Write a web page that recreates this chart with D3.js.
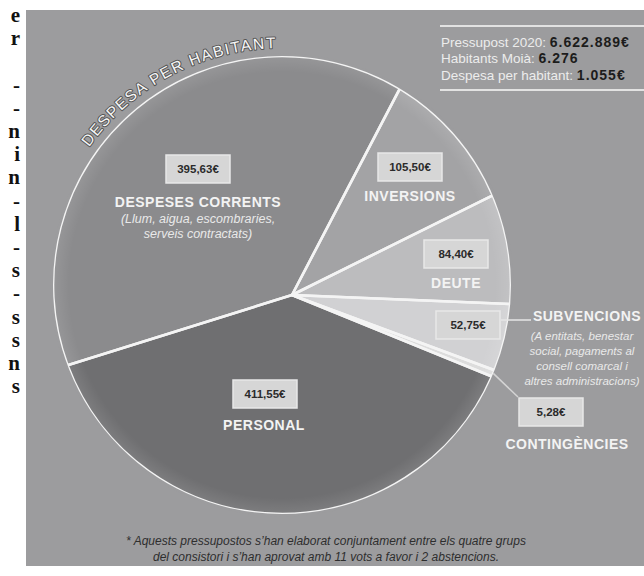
<!DOCTYPE html>
<html lang="ca">
<head>
<meta charset="UTF-8">
<title>Despesa per habitant</title>
<script src="https://cdn.jsdelivr.net/npm/d3@7"></script>
<style>
  body { margin: 0; background: #fff; overflow: hidden; }
  svg { display: block; }
  text { font-family: "Liberation Sans", Arial, sans-serif; }
</style>
</head>
<body>
<svg id="chart" width="644" height="576"></svg>
<script>
// slices, clockwise from the top-left
const categories = ["DESPESES CORRENTS", "INVERSIONS", "DEUTE", "SUBVENCIONS", "CONTINGÈNCIES", "PERSONAL"];
const values = [395.63, 105.50, 84.40, 52.75, 5.28, 411.55];
const valueLabels = ["395,63€", "105,50€", "84,40€", "52,75€", "5,28€", "411,55€"];
const notes = [
  ["(Llum, aigua, escombraries,", "serveis contractats)"],
  [], [],
  ["(A entitats, benestar", "social, pagaments al", "consell comarcal i", "altres administracions)"],
  [], []
];
const fills = ["#8b8b8d", "#a3a3a5", "#bcbcbe", "#d1d1d3", "#dcdcdc", "#6f6f71"];

const infoLabels = ["Pressupost 2020: ", "Habitants Moià: ", "Despesa per habitant: "];
const infoValues = ["6.622.889€", "6.276", "1.055€"];
const footnote = [
  "* Aquests pressupostos s’han elaborat conjuntament entre els quatre grups",
  "del consistori i s’han aprovat amb 11 vots a favor i 2 abstencions."
];
// line ends of the neighbouring newspaper column
const sideColumn = ["e", "r", "", "-", "-", "n", "i", "n", "-", "l", "-", "s", "-", "s", "s", "n", "s"];

// annotation anchors: value box, name, notes (+ note size)
const layout = [
  { box: [198, 169], name: [198, 202], notes: [198, 218], noteSize: 12.5 },
  { box: [410, 167], name: [410, 196] },
  { box: [456, 254], name: [456, 283] },
  { box: [468, 325], name: [587, 316], notes: [582, 336], noteSize: 11.5 },
  { box: [551, 412], name: [567, 444] },
  { box: [265, 394], name: [264, 425] }
];

const svg = d3.select("#chart");
const rad = Math.PI / 180;

// newspaper column strip
svg.append("g").selectAll("text").data(sideColumn).join("text")
  .attr("x", 20).attr("y", (d, i) => 22 + i * 23.2)
  .attr("text-anchor", "end")
  .style("font-family", "'Liberation Serif', 'DejaVu Serif', serif")
  .style("font-weight", "bold").style("font-size", "21px").attr("fill", "#111")
  .text(d => d);

// panel
svg.append("rect").attr("x", 26).attr("y", 10).attr("width", 618).attr("height", 556).attr("fill", "#9c9c9e");

// the pie: slices meet at an apex a little off the circle centre
const apex = [292, 295], centre = [282, 285], R = 229;
const data = categories.map((c, i) => ({ name: c, value: values[i], i }));
const a0 = -107.4 * rad;
const pie = d3.pie().sort(null).value(d => d.value).startAngle(a0).endAngle(a0 + 2 * Math.PI);
const arcs = pie(data);

function rim(a) {
  const ux = Math.sin(a), uy = -Math.cos(a);
  const dx = apex[0] - centre[0], dy = apex[1] - centre[1];
  const b = dx * ux + dy * uy;
  const t = -b + Math.sqrt(b * b - (dx * dx + dy * dy) + R * R);
  const x = apex[0] + t * ux, y = apex[1] + t * uy;
  return [x, y, Math.atan2(y - centre[1], x - centre[0])];
}

function slicePath(d) {
  const p0 = rim(d.startAngle), p1 = rim(d.endAngle);
  const p = d3.path();
  p.moveTo(apex[0], apex[1]);
  p.lineTo(p0[0], p0[1]);
  p.arc(centre[0], centre[1], R, p0[2], p1[2], false);
  p.closePath();
  return p.toString();
}

// soft light rim, as in the print
const defs = svg.append("defs");
const grad = defs.append("radialGradient").attr("id", "rimGlow")
  .attr("gradientUnits", "userSpaceOnUse")
  .attr("cx", centre[0]).attr("cy", centre[1]).attr("r", R);
grad.append("stop").attr("offset", "0.93").attr("stop-color", "#fff").attr("stop-opacity", 0);
grad.append("stop").attr("offset", "1").attr("stop-color", "#fff").attr("stop-opacity", 0.1);

const g = svg.append("g");
g.selectAll("path.slice").data(arcs).join("path")
  .attr("class", "slice")
  .attr("d", slicePath)
  .attr("fill", d => fills[d.data.i]);
g.append("circle").attr("cx", centre[0]).attr("cy", centre[1]).attr("r", R)
  .attr("fill", "url(#rimGlow)");
g.selectAll("path.edge").data(arcs).join("path")
  .attr("class", "edge")
  .attr("d", slicePath)
  .attr("fill", "none")
  .attr("stroke", "#f4f4f4").attr("stroke-width", 2.6).attr("stroke-linejoin", "round");
// outer rim has no white outline
g.append("circle").attr("cx", centre[0]).attr("cy", centre[1]).attr("r", R + 1.3)
  .attr("fill", "none").attr("stroke", "#9c9c9e").attr("stroke-width", 2.6);

// curved title along the rim
const tr = 237, t0 = -54.5 * rad, t1 = 25 * rad;
const tp = d3.path();
tp.moveTo(centre[0] + tr * Math.sin(t0), centre[1] - tr * Math.cos(t0));
tp.arc(centre[0], centre[1], tr, t0 - Math.PI / 2, t1 - Math.PI / 2, false);
defs.append("path").attr("id", "titleArc").attr("d", tp.toString());
svg.append("text")
  .style("font-size", "15.5px").style("letter-spacing", "1.6px")
  .attr("fill", "#f6f6f6").attr("stroke", "#555").attr("stroke-width", 2)
  .attr("paint-order", "stroke").attr("stroke-linejoin", "round")
  .append("textPath").attr("href", "#titleArc").text("DESPESA PER HABITANT");

// leader lines
const cont = arcs[4];
const cEdge = rim((cont.startAngle + cont.endAngle) / 2);
svg.append("line")
  .attr("x1", layout[3].box[0] + 33).attr("y1", 320).attr("x2", 531).attr("y2", 320)
  .attr("stroke", "#e6e6e6").attr("stroke-width", 1.5);
svg.append("line")
  .attr("x1", cEdge[0]).attr("y1", cEdge[1]).attr("x2", 518).attr("y2", 397)
  .attr("stroke", "#d4d4d4").attr("stroke-width", 1.5);

// value boxes and names
const labels = svg.append("g").selectAll("g").data(arcs).join("g");
labels.append("rect")
  .attr("x", d => layout[d.data.i].box[0] - 32).attr("y", d => layout[d.data.i].box[1] - 14)
  .attr("width", 64).attr("height", 28)
  .attr("fill", "#d6d6d6").attr("stroke", "#e8e8e8").attr("stroke-width", 1.5);
labels.append("text")
  .attr("x", d => layout[d.data.i].box[0]).attr("y", d => layout[d.data.i].box[1])
  .attr("dy", "0.36em").attr("text-anchor", "middle")
  .style("font-size", "11.5px").style("font-weight", "bold").attr("fill", "#2b2b2b")
  .text(d => valueLabels[d.data.i]);
labels.append("text")
  .attr("x", d => layout[d.data.i].name[0]).attr("y", d => layout[d.data.i].name[1])
  .attr("dy", "0.36em").attr("text-anchor", "middle")
  .style("font-size", "14px").style("font-weight", "bold").style("letter-spacing", "0.5px")
  .attr("fill", "#f3f3f3")
  .text(d => d.data.name);
labels.filter(d => notes[d.data.i].length).each(function (d) {
  const lay = layout[d.data.i];
  d3.select(this).selectAll("text.note").data(notes[d.data.i]).join("text")
    .attr("class", "note")
    .attr("x", lay.notes[0]).attr("y", (t, k) => lay.notes[1] + k * 15)
    .attr("dy", "0.36em").attr("text-anchor", "middle")
    .style("font-size", lay.noteSize + "px").style("font-style", "italic").attr("fill", "#e9e9e9")
    .text(t => t);
});

// summary box
const info = svg.append("g");
info.selectAll("line").data([26, 90]).join("line")
  .attr("x1", 440).attr("x2", 644).attr("y1", d => d).attr("y2", d => d)
  .attr("stroke", "#e2e2e2").attr("stroke-width", 2);
const infoText = info.selectAll("text").data(infoLabels).join("text")
  .attr("x", 441).attr("y", (d, i) => 42 + i * 16.5).attr("dy", "0.36em")
  .style("font-size", "13.5px");
infoText.append("tspan").attr("fill", "#ececec").text(d => d);
infoText.append("tspan").attr("fill", "#1c1c1c").style("font-weight", "bold")
  .style("font-size", "14px").style("letter-spacing", "1px")
  .text((d, i) => infoValues[i]);

// footnote
svg.append("g").selectAll("text").data(footnote).join("text")
  .attr("x", 326).attr("y", (d, i) => 541 + i * 16).attr("dy", "0.36em")
  .attr("text-anchor", "middle")
  .style("font-size", "12px").style("font-style", "italic").attr("fill", "#2e2e2e")
  .text(d => d);
</script>
</body>
</html>
